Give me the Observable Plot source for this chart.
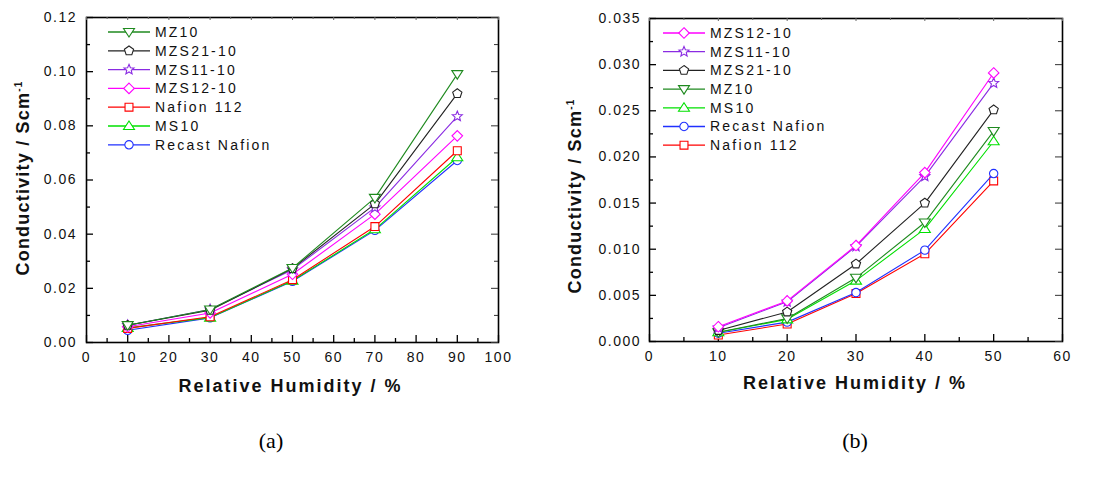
<!DOCTYPE html>
<html><head><meta charset="utf-8">
<script src="https://cdn.jsdelivr.net/npm/d3@7"></script>
<script src="https://cdn.jsdelivr.net/npm/@observablehq/plot@0.6"></script>
<style>
html,body{margin:0;padding:0;background:#fff}
body{width:1106px;height:487px;position:relative;overflow:hidden;font-family:"Liberation Sans",Arial,sans-serif}
.panel{position:absolute;top:0}
.cap{position:absolute;font-family:"Liberation Serif","Times New Roman",serif;font-size:22px;top:428px;transform:translateX(-50%)}
</style></head><body>
<div id="a" class="panel" style="left:0"></div>
<div id="b" class="panel" style="left:553px"></div>
<div class="cap" style="left:271px">(a)</div>
<div class="cap" style="left:855px">(b)</div>
<script>
// ---------- data: panel (a) ----------
const rhA = [10, 30, 50, 70, 90];
const seriesA = ["MZ10", "MZS21-10", "MZS11-10", "MZS12-10", "Nafion 112", "MS10", "Recast Nafion"];
const a_MZ10    = [0.0064, 0.0122, 0.0275, 0.0534, 0.0991];
const a_MZS21   = [0.0064, 0.0119, 0.0273, 0.0512, 0.0919];
const a_MZS11   = [0.0064, 0.0122, 0.0269, 0.0498, 0.0835];
const a_MZS12   = [0.0058, 0.0109, 0.0252, 0.0474, 0.0763];
const a_Naf112  = [0.0052, 0.0095, 0.0232, 0.0428, 0.0708];
const a_MS10    = [0.0054, 0.0092, 0.0228, 0.0418, 0.0684];
const a_Recast  = [0.0045, 0.0091, 0.0226, 0.0414, 0.0672];
const xTicksA = [0, 10, 20, 30, 40, 50, 60, 70, 80, 90, 100];
const yTicksA = [0, 0.02, 0.04, 0.06, 0.08, 0.10, 0.12];

// ---------- data: panel (b) ----------
const rhB = [10, 20, 30, 40, 50];
const seriesB = ["MZS12-10", "MZS11-10", "MZS21-10", "MZ10", "MS10", "Recast Nafion", "Nafion 112"];
const b_MZS12   = [0.0016, 0.0044, 0.0104, 0.0183, 0.0291];
const b_MZS11   = [0.0015, 0.0043, 0.0103, 0.0179, 0.0280];
const b_MZS21   = [0.0012, 0.0032, 0.0084, 0.0150, 0.0251];
const b_MZ10    = [0.0010, 0.0025, 0.0069, 0.0129, 0.0228];
const b_MS10    = [0.0010, 0.0024, 0.0066, 0.0122, 0.0217];
const b_Recast  = [0.0009, 0.0021, 0.0053, 0.0099, 0.0182];
const b_Naf112  = [0.0007, 0.0019, 0.0052, 0.0095, 0.0174];
const xTicksB = [0, 10, 20, 30, 40, 50, 60];
const yTicksB = [0, 0.005, 0.010, 0.015, 0.020, 0.025, 0.030, 0.035];

const xLabel = "Relative Humidity / %";
const yLabel = "Conductivity / Scm";
const ySup = "-1";

// ---------- styles ----------
const R = (s) => Math.sqrt(s / Math.PI);
const symbols = {
  circle: {draw(c, s) { const r = R(s) * 0.95; c.moveTo(r, 0); c.arc(0, 0, r, 0, 2 * Math.PI); c.closePath(); }},
  square: {draw(c, s) { const h = R(s) * 0.9; c.rect(-h, -h, 2 * h, 2 * h); }},
  diamond: {draw(c, s) { const h = R(s) * 1.2; c.moveTo(0, -h); c.lineTo(h, 0); c.lineTo(0, h); c.lineTo(-h, 0); c.closePath(); }},
  triUp: {draw(c, s) { const r = R(s); c.moveTo(0, -r * 1.15); c.lineTo(r * 1.25, r * 0.8); c.lineTo(-r * 1.25, r * 0.8); c.closePath(); }},
  triDown: {draw(c, s) { const r = R(s); c.moveTo(0, r * 1.15); c.lineTo(r * 1.25, -r * 0.8); c.lineTo(-r * 1.25, -r * 0.8); c.closePath(); }},
  pentagon: {draw(c, s) { const r = R(s) * 1.1; for (let i = 0; i < 5; i++) { const a = -Math.PI / 2 + i * 2 * Math.PI / 5; i ? c.lineTo(r * Math.cos(a), r * Math.sin(a)) : c.moveTo(r * Math.cos(a), r * Math.sin(a)); } c.closePath(); }},
  star: {draw(c, s) { const ro = R(s) * 1.2, ri = ro * 0.45; for (let i = 0; i < 10; i++) { const rr = i % 2 ? ri : ro; const a = -Math.PI / 2 + i * Math.PI / 5; i ? c.lineTo(rr * Math.cos(a), rr * Math.sin(a)) : c.moveTo(rr * Math.cos(a), rr * Math.sin(a)); } c.closePath(); }}
};
const style = {
  "MZ10": {color: "#1f8a1f", symbol: symbols.triDown},
  "MZS21-10": {color: "#222222", symbol: symbols.pentagon},
  "MZS11-10": {color: "#8a2be2", symbol: symbols.star},
  "MZS12-10": {color: "#ff00ff", symbol: symbols.diamond},
  "Nafion 112": {color: "#ff0000", symbol: symbols.square},
  "MS10": {color: "#00e000", symbol: symbols.triUp},
  "Recast Nafion": {color: "#2030ff", symbol: symbols.circle}
};

const valuesA = {"MZ10": a_MZ10, "MZS21-10": a_MZS21, "MZS11-10": a_MZS11, "MZS12-10": a_MZS12, "Nafion 112": a_Naf112, "MS10": a_MS10, "Recast Nafion": a_Recast};
const valuesB = {"MZS12-10": b_MZS12, "MZS11-10": b_MZS11, "MZS21-10": b_MZS21, "MZ10": b_MZ10, "MS10": b_MS10, "Recast Nafion": b_Recast, "Nafion 112": b_Naf112};

function mids(t) { const out = []; for (let i = 0; i < t.length - 1; i++) out.push((t[i] + t[i + 1]) / 2); return out; }

function panel(cfg) {
  const W = 553, H = 400;
  const pw = W - cfg.ml - cfg.mr, ph = H - cfg.mt - cfg.mb;
  const M = 7, m = 4;
  const xMinor = mids(cfg.xTicks), yMinor = mids(cfg.yTicks);
  const marks = [
    Plot.frame({stroke: "black", strokeWidth: 1.6}),
    Plot.tickY(cfg.yTicks, {y: d => d, insetRight: pw - M, stroke: "black", strokeWidth: 1.3}),
    Plot.tickY(yMinor, {y: d => d, insetRight: pw - m, stroke: "black", strokeWidth: 1.3}),
    Plot.tickY(cfg.yTicks, {y: d => d, insetLeft: pw - M, stroke: "#333", strokeWidth: 1}),
    Plot.tickY(yMinor, {y: d => d, insetLeft: pw - m, stroke: "#333", strokeWidth: 1}),
    Plot.tickX(cfg.xTicks, {x: d => d, insetTop: ph - M, stroke: "black", strokeWidth: 1.3}),
    Plot.tickX(xMinor, {x: d => d, insetTop: ph - m, stroke: "black", strokeWidth: 1.3}),
    Plot.tickX(cfg.xTicks, {x: d => d, insetBottom: ph - 3, stroke: "#666", strokeWidth: 1}),
    Plot.tickX(xMinor, {x: d => d, insetBottom: ph - 2, stroke: "#666", strokeWidth: 1}),
    Plot.axisY({ticks: cfg.yTicks, tickFormat: cfg.yFmt, tickSize: 0, tickPadding: cfg.yPad, fontSize: 14, label: null}),
    Plot.axisX({ticks: cfg.xTicks, tickFormat: d => String(d), tickSize: 0, tickPadding: 10, fontSize: 14, label: null}),
    Plot.text([xLabel], {frameAnchor: "bottom", dy: cfg.xlDy, dx: cfg.xlDx, lineAnchor: "middle", fontSize: 18, fontWeight: "bold"}),
    Plot.text([yLabel], {frameAnchor: "left", rotate: -90, dx: cfg.ylDx, dy: cfg.ylDy, lineAnchor: "middle", textAnchor: "middle", fontSize: 18, fontWeight: "bold"})
  ];
  for (const name of [...cfg.series].reverse()) {
    const rows = cfg.x.map((xv, i) => ({series: name, rh: xv, c: cfg.values[name][i]}));
    marks.push(Plot.line(rows, {x: "rh", y: "c", stroke: style[name].color, strokeWidth: 1.1}));
    marks.push(Plot.dot(rows, {x: "rh", y: "c", symbol: style[name].symbol, r: 4.4, stroke: style[name].color, fill: "white", strokeWidth: 1.1}));
  }
  const svg = Plot.plot({
    width: W, height: H,
    marginLeft: cfg.ml, marginRight: cfg.mr, marginTop: cfg.mt, marginBottom: cfg.mb,
    x: {domain: cfg.xDomain},
    y: {domain: cfg.yDomain},
    style: {fontFamily: "'Liberation Sans', Arial, sans-serif", fontSize: "14px", color: "black", background: "white"},
    marks
  });
  const s = d3.select(svg);
  s.selectAll("text").style("letter-spacing", "1.5px").attr("fill", "#111");
  s.selectAll("text").filter(function() { return this.textContent === xLabel; }).style("letter-spacing", "2px");
  s.selectAll("text").filter(function() { return this.textContent === yLabel; })
    .style("letter-spacing", "1.2px")
    .append("tspan").attr("font-size", 10).attr("dy", "-0.75em").text(ySup);
  // legend, built from the series list
  const lg = s.append("g").attr("class", "legend").attr("text-anchor", "start");
  cfg.series.forEach((name, i) => {
    const y = cfg.lgY + i * cfg.lgStep;
    const g = lg.append("g").attr("transform", `translate(0,${y})`);
    g.append("line").attr("x1", cfg.lgX).attr("x2", cfg.lgX + 42).attr("y1", 0).attr("y2", 0)
      .attr("stroke", style[name].color).attr("stroke-width", 1.3);
    g.append("path").attr("transform", `translate(${cfg.lgX + 21},0)`)
      .attr("d", d3.symbol(style[name].symbol, 4.4 * 4.4 * Math.PI)())
      .attr("fill", "white").attr("stroke", style[name].color).attr("stroke-width", 1.1);
    g.append("text").attr("x", cfg.lgX + 47).attr("y", 0).attr("dy", "0.35em")
      .attr("text-anchor", "start")
      .attr("font-size", 14).attr("fill", "#111").style("letter-spacing", "2.2px").text(name);
  });
  return svg;
}

document.getElementById("a").appendChild(panel({
  x: rhA, series: seriesA, values: valuesA,
  xDomain: [0, 100], yDomain: [0, 0.12], xTicks: xTicksA, yTicks: yTicksA,
  yFmt: d3.format(".2f"), yPad: 9.5,
  ml: 86, mr: 55, mt: 17, mb: 58,
  xlDy: 44, xlDx: -2, ylDx: -63, ylDy: -2,
  lgX: 108, lgY: 32, lgStep: 18.8
}));
document.getElementById("b").appendChild(panel({
  x: rhB, series: seriesB, values: valuesB,
  xDomain: [0, 60], yDomain: [0, 0.035], xTicks: xTicksB, yTicks: yTicksB,
  yFmt: d3.format(".3f"), yPad: 8.5,
  ml: 96, mr: 44, mt: 18, mb: 59,
  xlDy: 42, xlDx: -1, ylDx: -74, ylDy: 16,
  lgX: 110, lgY: 33, lgStep: 18.7
}));
</script>
</body></html>
